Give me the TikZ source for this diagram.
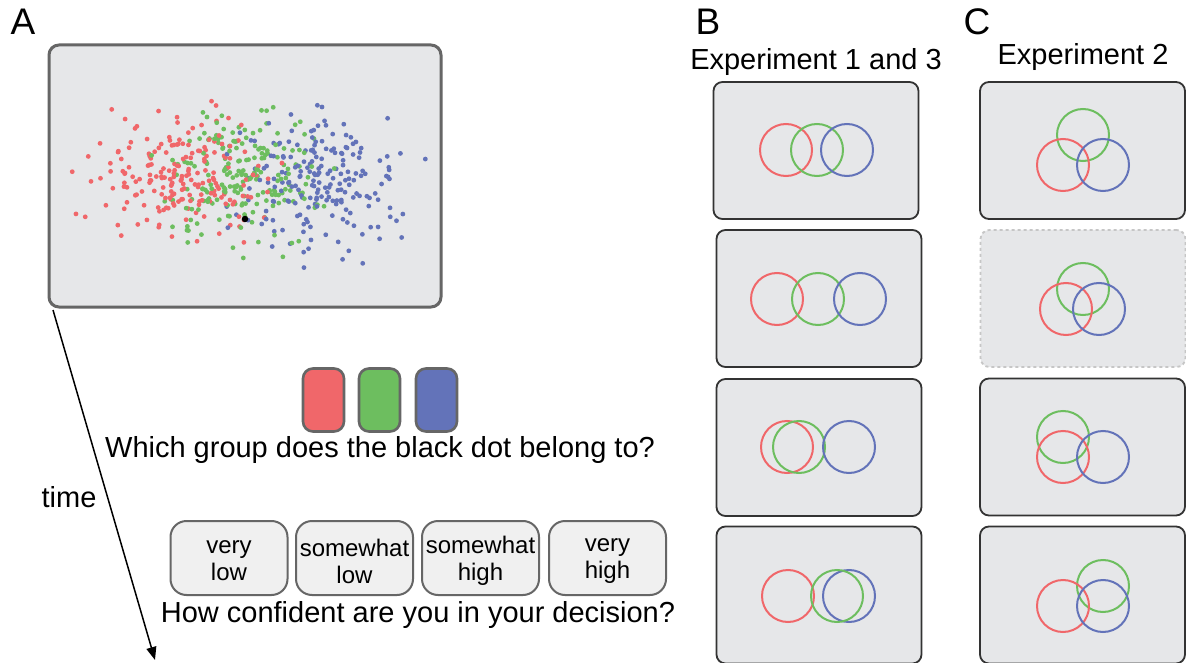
\documentclass[tikz,border=0pt]{standalone}
\usepackage{fontspec}
\setmainfont{Liberation Sans}
\usetikzlibrary{arrows.meta}
\definecolor{cred}{HTML}{F0676A}
\definecolor{cgreen}{HTML}{6DBE5F}
\definecolor{cblue}{HTML}{6373B9}
\definecolor{panelbg}{HTML}{E6E7E9}
\definecolor{btnbg}{HTML}{F0F0F0}
\definecolor{edgegray}{HTML}{666666}
\definecolor{edgedark}{HTML}{333333}
\tikzset{
  screen/.style={draw=edgegray, line width=3pt, fill=panelbg, rounded corners=10pt, inner sep=0pt},
  colbtn/.style={draw=edgegray, line width=2.6pt, rounded corners=10pt, minimum width=41pt, minimum height=63pt, inner sep=0pt},
  confbtn/.style={draw=edgegray, line width=2pt, fill=btnbg, rounded corners=16pt, minimum width=117pt, minimum height=74pt, inner sep=0pt},
  conftxt/.style={inner sep=0pt, align=center, font=\fontsize{24}{27}\selectfont},
  stimbox/.style={draw=edgedark, line width=1.8pt, fill=panelbg, rounded corners=9pt, minimum width=205pt, minimum height=137pt, inner sep=0pt},
  ring/.style={circle, draw=#1, line width=2pt, minimum size=52pt, inner sep=0pt},
  bigtxt/.style={font=\fontsize{29}{34}\selectfont, inner sep=0pt},
  letter/.style={font=\fontsize{37}{40}\selectfont, inner sep=0pt}
}
\begin{document}
\begin{tikzpicture}[x=1pt,y=-1pt]
\useasboundingbox (0,0) rectangle (1186,663);
\fill[white] (0,0) rectangle (1186,663);
% panel letters
\node[letter] (lA) at (23,22) {A};
\node[letter] (lB) at (708,22) {B};
\node[letter] (lC) at (977,22) {C};
% main screen
\node[screen, minimum width=392pt, minimum height=262pt] (scr) at (245,176) {};
\begin{scope}
\clip[rounded corners=10pt] (51,47) rectangle (439,305);
\pgfmathsetseed{4}
\foreach \i in {1,...,200}{
  \pgfmathsetmacro\rx{178+40*(rand+rand+rand)}
  \pgfmathsetmacro\ry{178+32*(rand+rand+rand)}
  \fill[cred] (\rx,\ry) circle[radius=2.4];
  \pgfmathsetmacro\gx{245+38*(rand+rand+rand)}
  \pgfmathsetmacro\gy{175+32*(rand+rand+rand)}
  \fill[cgreen] (\gx,\gy) circle[radius=2.4];
  \pgfmathsetmacro\bx{318+38*(rand+rand+rand)}
  \pgfmathsetmacro\by{178+32*(rand+rand+rand)}
  \fill[cblue] (\bx,\by) circle[radius=2.4];
}
\end{scope}
\node[circle, fill=black, minimum size=6.5pt, inner sep=0pt] (target) at (245,219) {};
% time arrow
\coordinate (tstart) at (53,310);
\coordinate (tend) at (155,660);
\draw[line width=1.5pt, -{Triangle[length=13pt,width=10pt]}] (tstart) -- (tend);
\node[bigtxt] (time) at (69,497) {time};
% colour buttons
\node[colbtn, fill=cred] (bred) at (323.5,400) {};
\node[colbtn, fill=cgreen] (bgreen) at (379.5,400) {};
\node[colbtn, fill=cblue] (bblue) at (436.5,400) {};
\node[bigtxt] (q1) at (380,450) {Which group does the black dot belong to?};
% confidence buttons
\node[confbtn] (c1) at (229,558) {};
\node[confbtn] (c2) at (354.5,558) {};
\node[confbtn] (c3) at (480.5,558) {};
\node[confbtn] (c4) at (607.5,558) {};
\node[conftxt] (t1) at ([yshift=-3pt]c1.center) {very\\low};
\node[conftxt] (t2) at ([yshift=-3pt]c2.center) {somewhat\\low};
\node[conftxt] (t3) at ([yshift=-3pt]c3.center) {somewhat\\high};
\node[conftxt] (t4) at ([yshift=-3pt]c4.center) {very\\high};
\node[bigtxt] (q2) at (418,615) {How confident are you in your decision?};
% Experiment labels
\node[bigtxt] (eB) at (816,62) {Experiment 1 and 3};
\node[bigtxt] (eC) at (1083,57) {Experiment 2};
% B column
\node[stimbox] (B1) at (816,150.5) {};
\node[ring=cred] at (786,150) {};
\node[ring=cgreen] at (817,150) {};
\node[ring=cblue] at (847,150) {};
\node[stimbox] (B2) at (819,298.5) {};
\node[ring=cred] at (777,299) {};
\node[ring=cgreen] at (818,299) {};
\node[ring=cblue] at (860,299) {};
\node[stimbox] (B3) at (819,447.5) {};
\node[ring=cred] at (787,447) {};
\node[ring=cgreen] at (799,447) {};
\node[ring=cblue] at (849,447) {};
\node[stimbox] (B4) at (819,595) {};
\node[ring=cred] at (788,596) {};
\node[ring=cblue] at (849,596) {};
\node[ring=cgreen] at (837,596) {};
% C column
\node[stimbox] (C1) at (1082.5,150.5) {};
\node[ring=cgreen] at (1083,135) {};
\node[ring=cred] at (1063,165) {};
\node[ring=cblue] at (1103,165) {};
\node[stimbox, draw=gray!45, dashed] (C2) at (1083,298.5) {};
\node[ring=cgreen] at (1083,289) {};
\node[ring=cred] at (1066,309) {};
\node[ring=cblue] at (1099,309) {};
\node[stimbox] (C3) at (1082.5,447) {};
\node[ring=cgreen] at (1063,437) {};
\node[ring=cred] at (1063,457) {};
\node[ring=cblue] at (1103,457) {};
\node[stimbox] (C4) at (1082.5,595) {};
\node[ring=cgreen] at (1103,586) {};
\node[ring=cred] at (1063,606) {};
\node[ring=cblue] at (1103,606) {};
\end{tikzpicture}
\end{document}
